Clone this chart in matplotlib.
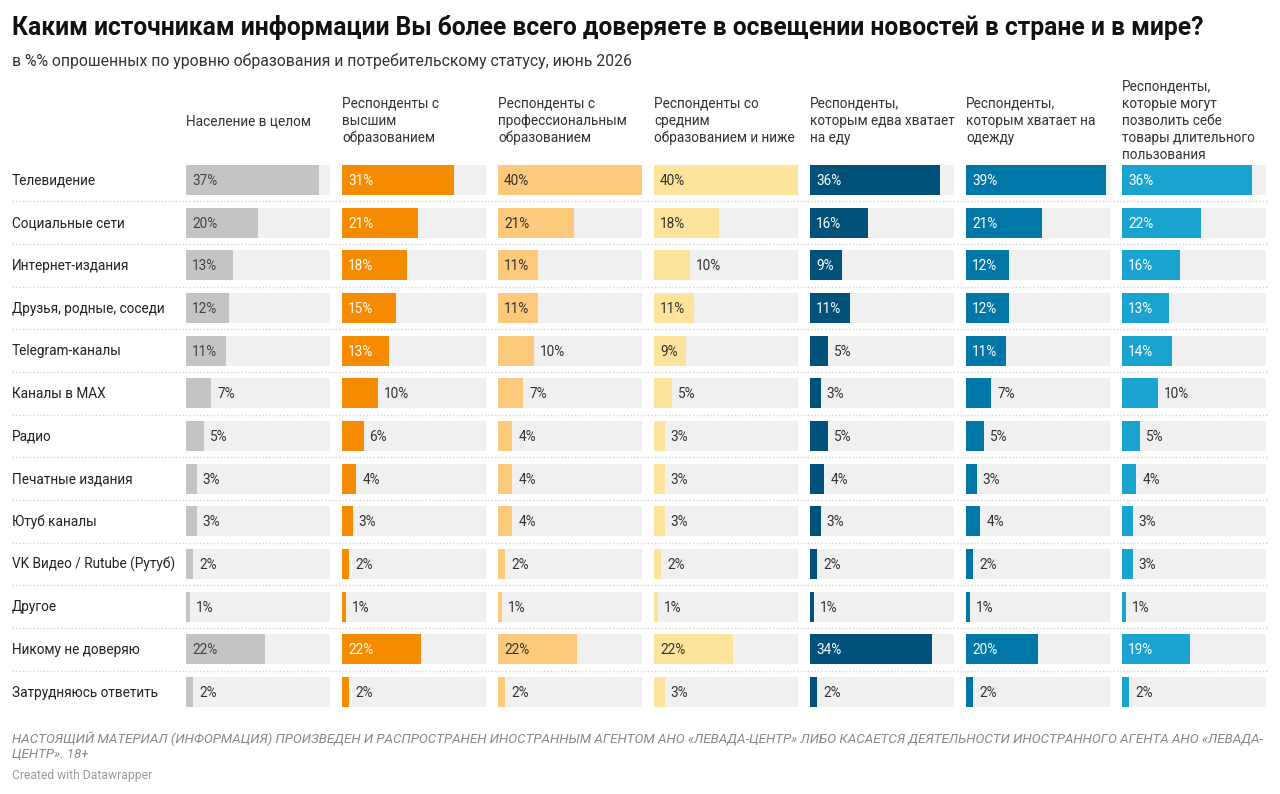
import matplotlib.pyplot as plt
from matplotlib.lines import Line2D

plt.rcParams['font.family'] = ['Roboto', 'DejaVu Sans']

W, H = 1280, 794

categories = ["Телевидение", "Социальные сети", "Интернет-издания",
              "Друзья, родные, соседи", "Telegram-каналы", "Каналы в MAX",
              "Радио", "Печатные издания", "Ютуб каналы",
              "VK Видео / Rutube (Рутуб)", "Другое", "Никому не доверяю",
              "Затрудняюсь ответить"]

headers = ["Население в целом",
           "Респонденты с\nвысшим\nобразованием",
           "Респонденты с\nпрофессиональным\nобразованием",
           "Респонденты со\nсредним\nобразованием и ниже",
           "Респонденты,\nкоторым едва хватает\nна еду",
           "Респонденты,\nкоторым хватает на\nодежду",
           "Респонденты,\nкоторые могут\nпозволить себе\nтовары длительного\nпользования"]

total = [37, 20, 13, 12, 11, 7, 5, 3, 3, 2, 1, 22, 2]
higher_edu = [31, 21, 18, 15, 13, 10, 6, 4, 3, 2, 1, 22, 2]
prof_edu = [40, 21, 11, 11, 10, 7, 4, 4, 4, 2, 1, 22, 2]
secondary_edu = [40, 18, 10, 11, 9, 5, 3, 3, 3, 2, 1, 22, 3]
food_only = [36, 16, 9, 11, 5, 3, 5, 4, 3, 2, 1, 34, 2]
clothes = [39, 21, 12, 12, 11, 7, 5, 3, 4, 2, 1, 20, 2]
durables = [36, 22, 16, 13, 14, 10, 5, 4, 3, 3, 1, 19, 2]

series = [total, higher_edu, prof_edu, secondary_edu, food_only, clothes, durables]
colors = ["#c4c4c4", "#f68b00", "#fdc97a", "#fde39c", "#00527a", "#0077a6", "#1ba3d0"]
inside_text = ["#444444", "white", "#333333", "#333333", "white", "white", "white"]

col_x = [186, 342, 498, 654, 810, 966, 1122]
col_w = 144
xmax = 40
row_top, row_step = 180, 42.67
n = len(categories)

fig = plt.figure(figsize=(W / 100, H / 100), dpi=100)
fig.patch.set_facecolor("white")


def fx(px):
    return px / W


def fy(py):
    return 1 - py / H


ax_top = row_top - row_step / 2
ax_bot = row_top + row_step * (n - 0.5)

# dotted separators between rows
for i in range(n - 1):
    y = fy(row_top + row_step * (i + 0.5))
    fig.add_artist(Line2D([fx(12), fx(1268)], [y, y], color="#d4d4d4",
                          lw=1, ls=(0, (1, 1.5)), transform=fig.transFigure))

renderer = fig.canvas.get_renderer()
px_per_unit = col_w / xmax

for j, vals in enumerate(series):
    ax = fig.add_axes([fx(col_x[j]), fy(ax_bot), col_w / W, (ax_bot - ax_top) / H])
    ax.set_xlim(0, xmax)
    ax.set_ylim(n - 0.5, -0.5)
    ax.axis("off")
    ypos = range(n)
    ax.barh(ypos, [xmax] * n, height=0.7, color="#f0f0f0", zorder=1)
    ax.barh(ypos, vals, height=0.7, color=colors[j], zorder=2)
    for i, v in enumerate(vals):
        lab = f"{v}%"
        t = ax.text(0, i + 0.02, lab, fontsize=9.8, va="center", zorder=3)
        tw = t.get_window_extent(renderer).width
        if tw + 11 <= v * px_per_unit:
            t.set_x(6 / px_per_unit)
            t.set_color(inside_text[j])
        else:
            t.set_x(v + 6 / px_per_unit)
            t.set_color("#333333")
    fig.text(fx(col_x[j]), fy(121), headers[j], fontsize=9.8, color="#333333",
             ha="left", va="center", multialignment="left", linespacing=1.28)

for i, c in enumerate(categories):
    fig.text(fx(12), fy(row_top + row_step * i + 0.5), c, fontsize=9.8,
             color="#222222", va="center", ha="left")

fig.text(fx(12), fy(27), "Каким источникам информации Вы более всего доверяете в освещении новостей в стране и в мире?",
         fontsize=17.7, fontweight="bold", color="#111111", va="center")
fig.text(fx(12), fy(61), "в %% опрошенных по уровню образования и потребительскому статусу, июнь 2026",
         fontsize=11.3, color="#333333", va="center")
fig.text(fx(12), fy(739),
         "НАСТОЯЩИЙ МАТЕРИАЛ (ИНФОРМАЦИЯ) ПРОИЗВЕДЕН И РАСПРОСТРАНЕН ИНОСТРАННЫМ АГЕНТОМ АНО «ЛЕВАДА-ЦЕНТР» ЛИБО КАСАЕТСЯ ДЕЯТЕЛЬНОСТИ ИНОСТРАННОГО АГЕНТА АНО «ЛЕВАДА-",
         fontsize=9.65, style="italic", color="#888888", va="center")
fig.text(fx(12), fy(755), "ЦЕНТР». 18+", fontsize=9.65, style="italic",
         color="#888888", va="center")
fig.text(fx(12), fy(775), "Created with Datawrapper", fontsize=8.7,
         color="#999999", va="center")

fig.savefig("out.png", dpi=100)
